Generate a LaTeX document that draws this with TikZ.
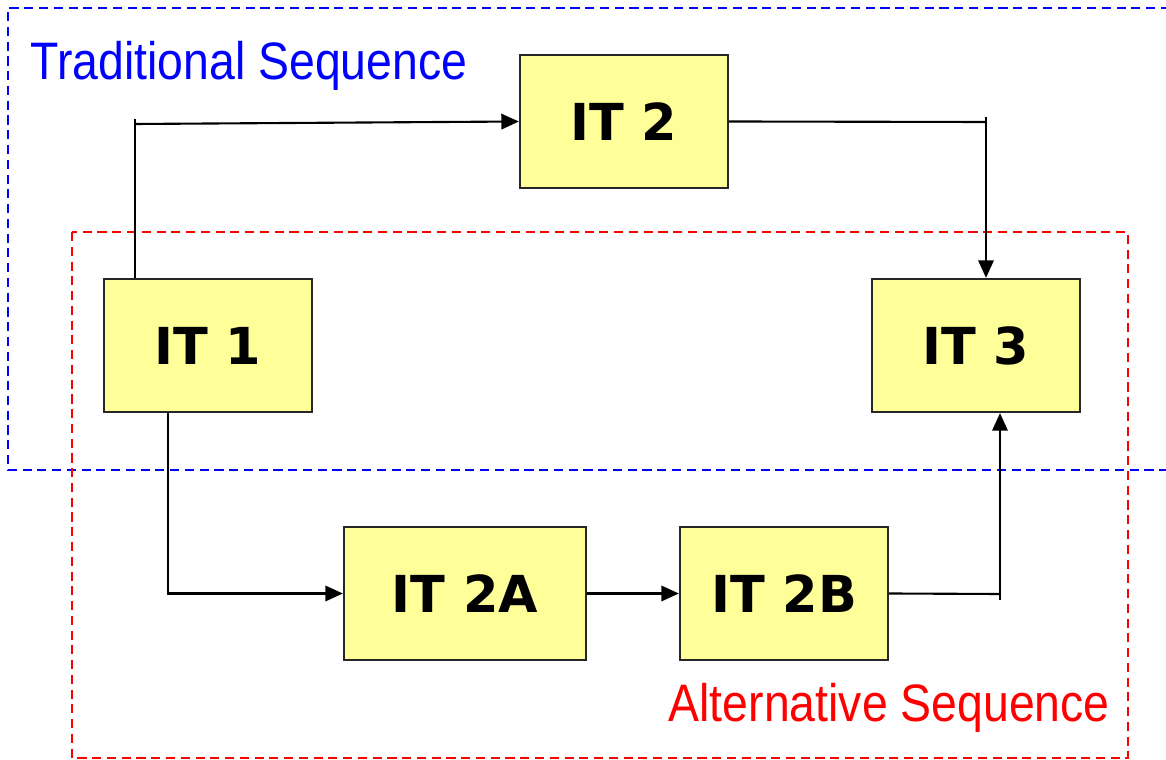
\documentclass[tikz,border=0pt]{standalone}
\usepackage{fontspec}
\setmainfont{DejaVu Sans}
\newfontfamily\seqfont{Liberation Sans}
\usetikzlibrary{arrows.meta}
\definecolor{boxyellow}{HTML}{FFFF99}
\definecolor{seqblue}{HTML}{0000FF}
\definecolor{seqred}{HTML}{FF0000}
\newcommand{\seqtext}[1]{\scalebox{0.88}[1]{#1}}

\begin{document}
\begin{tikzpicture}[
    itbox/.style={draw=black!85, line width=0.65pt, fill=boxyellow,
                  minimum width=2.08cm, minimum height=1.33cm, inner sep=0pt,
                  font=\fontsize{14.5}{17}\selectfont\bfseries},
    link/.style={line width=0.6pt, black},
    flow/.style={link, -{Triangle[length=5pt,width=4.4pt]}},
    seqbox/.style={line width=0.6pt, dash pattern=on 2.6pt off 1.6pt},
    seqlabel/.style={font=\seqfont\fontsize{15}{18}\selectfont, inner sep=0pt}
  ]
                \useasboundingbox (0,0) rectangle (11.66,-7.6);

                % the two groups
                \draw[seqbox, seqblue] (11.70,-0.08) -- (0.08,-0.08) -- (0.08,-4.70) -- (11.70,-4.70);
                \draw[seqbox, seqred] (0.72,-2.32) rectangle (11.28,-7.58);
                \node[seqlabel, text=seqblue, anchor=base west] (trad) at (0.30,-0.80) {\seqtext{Traditional Sequence}};
                \node[seqlabel, text=seqred, anchor=base west] (alt) at (6.68,-7.22) {\seqtext{Alternative Sequence}};

                % iterations
                \node[itbox] (IT2) at (6.24,-1.215) {IT 2};
                \node[itbox] (IT1) at (2.08,-3.455) {IT 1};
                \node[itbox] (IT3) at (9.76,-3.455) {IT 3};
                \node[itbox, minimum width=2.42cm] (IT2A) at (4.65,-5.935) {IT 2A};
                \node[itbox] (IT2B) at (7.84,-5.935) {IT 2B};

                \coordinate (c1) at (1.35,-1.24);
                \coordinate (c2) at (9.86,-1.22);
                \coordinate (c2t) at (9.86,-1.17);
                \coordinate (c3) at (1.68,-5.94);
                \coordinate (c4) at (10.00,-5.94);
                \coordinate (c4b) at (10.00,-6.00);

                % traditional
                \draw[link] (IT1.north -| c1) -- (1.35,-1.19);
                \draw[flow] (c1) -- (IT2.west);
                \draw[link] (IT2.east) -- (c2);
                \draw[flow] (c2t) -- (IT3.north -| c2t);

                % alternative
                \draw[flow] (IT1.south -| c3) |- (IT2A.west);
                \draw[flow] (IT2A) -- (IT2B);
                \draw[link] (IT2B.east) -- (c4);
                \draw[flow] (c4b) -- (IT3.south -| c4b);
\end{tikzpicture}
\end{document}
